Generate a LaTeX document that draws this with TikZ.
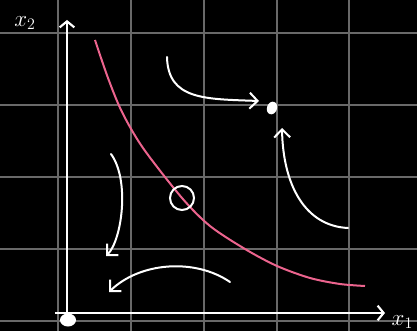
\documentclass[tikz,border=0pt]{standalone}
\usepackage{amsmath}
\usepackage{xcolor}
\usepackage{tikz}
\usetikzlibrary{arrows.meta}
\definecolor{gridgray}{RGB}{105, 105, 105}
\definecolor{curvepink}{RGB}{236, 100, 142}
\tikzstyle{gridline} = [gridgray, line width=1.3pt]
\tikzstyle{axis} = [white, line width=2pt, -{Straight Barb[length=4.5pt, width=11pt, line width=1.6pt]}]
\tikzstyle{flow} = [white, line width=1.5pt, line cap=round, -{Straight Barb[length=6pt, width=12pt, line width=1.5pt]}]

\begin{document}
\begin{tikzpicture}[x=0.75pt, y=-0.75pt]
    % Board
    \useasboundingbox (0,0) rectangle (417,331);
    \fill[black] (0,0) rectangle (417,331);

    % Grid
    \foreach \gx in {58,131,204,277,349}
        \draw[gridline] (\gx,0) -- (\gx,331);
    \foreach \gy in {33,105,177,249,321}
        \draw[gridline] (0,\gy) -- (417,\gy);

    % Axes
    \coordinate (o) at (67,313);
    \coordinate (ytop) at (67,20);
    \coordinate (xend) at (385,313);
    \draw[axis] (67,316) -- (ytop);
    \draw[axis] (55,313) -- (xend);
    \node[white, font=\LARGE] (xtwo) at (25,23) {$x_2$};
    \node[white, font=\LARGE, anchor=west] (xone) at (387,322) {$x_1$};
    \fill[white] (68,320) ellipse [x radius=8, y radius=6.5];

    % Indifference curve
    \draw[curvepink, line width=1.5pt] plot[smooth] coordinates
        {(95,40) (108,78) (122,112) (143,148) (182,198) (210,226) (245,249)
         (277,266) (310,278) (340,284) (365,286)};
    \node[draw=white, line width=1.5pt, circle, minimum size=24*0.75pt, inner sep=0pt] (opt) at (182,198) {};

    % Better bundle
    \fill[white, rotate around={-20:(272,108)}] (272,108) ellipse [x radius=5, y radius=6.5];

    % Arrows
    \coordinate (a1) at (167,57);  \coordinate (b1) at (259,101);
    \coordinate (a2) at (348,228); \coordinate (b2) at (282,128);
    \coordinate (a3) at (111,154); \coordinate (b3) at (106,256);
    \coordinate (a4) at (230,282); \coordinate (b4) at (109,292);
    \draw[flow] (a1) .. controls (168,100) and (205,99) .. (b1);
    \draw[flow] (a2) .. controls (305,226) and (283,185) .. (b2);
    \draw[flow] (a3) .. controls (130,180) and (122,240) .. (b3);
    \draw[flow] (a4) .. controls (195,258) and (140,262) .. (b4);
\end{tikzpicture}
\end{document}
